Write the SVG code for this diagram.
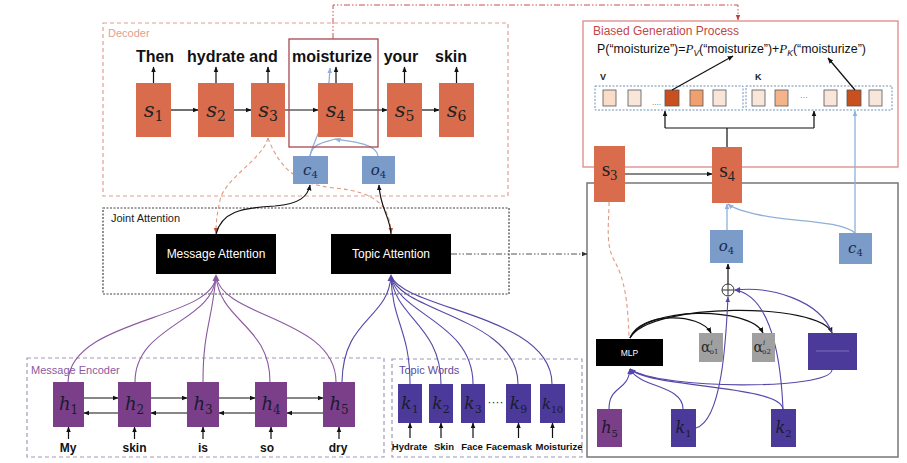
<svg xmlns="http://www.w3.org/2000/svg" width="907" height="463" viewBox="0 0 907 463">
<defs>
<style>
.lbl{font-family:"Liberation Sans",Arial,sans-serif}
.w{font-family:"Liberation Sans",Arial,sans-serif;font-weight:bold;fill:#111;text-anchor:middle}
.m{font-family:"DejaVu Serif","Liberation Serif",serif;font-style:italic;text-anchor:middle}
.al{font-family:"DejaVu Serif","Liberation Serif",serif;fill:#2a2a2a}
.sn{fill:#d86c4c}
.bl{fill:#7b9bc8}
.pu{fill:#7b3f8a}
.in{fill:#4b3a9a}
.ln{fill:none;stroke:#111;stroke-width:1.2}
.lb{fill:none;stroke:#8fb0d8;stroke-width:1.3}
.lp{fill:none;stroke:#8a5aa0;stroke-width:1.1}
.li{fill:none;stroke:#5548a8;stroke-width:1.1}
.ls{fill:none;stroke:#e09a80;stroke-width:1.1;stroke-dasharray:4 3}
.sq{stroke:#555;stroke-width:0.8}
</style>
<marker id="ak" viewBox="0 0 10 10" refX="9" refY="5" markerWidth="6" markerHeight="6" markerUnits="userSpaceOnUse" orient="auto"><path d="M0,1 L10,5 L0,9z" fill="#111"/></marker>
<marker id="ab" viewBox="0 0 10 10" refX="9" refY="5" markerWidth="6" markerHeight="6" markerUnits="userSpaceOnUse" orient="auto"><path d="M0,1 L10,5 L0,9z" fill="#8fb0d8"/></marker>
<marker id="ai" viewBox="0 0 10 10" refX="9" refY="5" markerWidth="6" markerHeight="6" markerUnits="userSpaceOnUse" orient="auto"><path d="M0,1 L10,5 L0,9z" fill="#5548a8"/></marker>
<marker id="as" viewBox="0 0 10 10" refX="9" refY="5" markerWidth="6" markerHeight="6" markerUnits="userSpaceOnUse" orient="auto"><path d="M0,1 L10,5 L0,9z" fill="#c0503a"/></marker>
<marker id="ar" viewBox="0 0 10 10" refX="9" refY="5" markerWidth="6" markerHeight="6" markerUnits="userSpaceOnUse" orient="auto"><path d="M0,1 L10,5 L0,9z" fill="#c04040"/></marker>
<marker id="ag" viewBox="0 0 10 10" refX="9" refY="5" markerWidth="6" markerHeight="6" markerUnits="userSpaceOnUse" orient="auto"><path d="M0,1 L10,5 L0,9z" fill="#333"/></marker>
</defs>
<rect width="907" height="463" fill="#fff"/>

<!-- containers -->
<g id="decoder">
<rect x="103" y="23" width="405" height="173" fill="none" stroke="#e0a090" stroke-width="1.2" stroke-dasharray="4 3"/>
<text x="108" y="37" class="lbl" font-size="11" fill="#e0a090">Decoder</text>
</g>
<g id="joint-attention">
<rect x="103" y="208" width="406" height="86" fill="none" stroke="#444" stroke-width="1.2" stroke-dasharray="2 1.5"/>
<text x="111" y="222" class="lbl" font-size="11" fill="#222">Joint Attention</text>
</g>
<g id="message-encoder">
<rect x="27" y="358" width="357" height="99" fill="none" stroke="#a898b8" stroke-width="1.2" stroke-dasharray="4 3"/>
<text x="31" y="374" class="lbl" font-size="11" fill="#8a5aa0">Message Encoder</text>
</g>
<g id="topic-words">
<rect x="392" y="359" width="190" height="98" fill="none" stroke="#9a98b8" stroke-width="1.2" stroke-dasharray="4 3"/>
<text x="399" y="374" class="lbl" font-size="11" fill="#5a4aa0">Topic Words</text>
</g>
<g id="detail-panel">
<rect x="587" y="183" width="311" height="274" fill="none" stroke="#777" stroke-width="1.5"/>
</g>
<g id="biased-generation">
<rect x="583" y="21" width="315" height="146" fill="#fff" stroke="#e08888" stroke-width="1.3"/>
<text x="593" y="35" class="lbl" font-size="12" fill="#c04848">Biased Generation Process</text>
<text x="597" y="53" class="lbl" font-size="12.4" fill="#111">P(“moisturize”)=<tspan font-family="Liberation Serif,serif" font-style="italic" font-size="13">P</tspan><tspan font-size="8.5" font-style="italic" dy="3">V</tspan><tspan dy="-3">(“moisturize”)+</tspan><tspan font-family="Liberation Serif,serif" font-style="italic" font-size="13">P</tspan><tspan font-size="8.5" font-style="italic" dy="3">K</tspan><tspan dy="-3">(“moisturize”)</tspan></text>
<text x="600" y="80" class="lbl" font-size="9" font-weight="bold" fill="#222">V</text>
<text x="755" y="80" class="lbl" font-size="9" font-weight="bold" fill="#222">K</text>
<rect x="595" y="86" width="148" height="24" fill="none" stroke="#7090b8" stroke-width="1" stroke-dasharray="2 1.5"/>
<rect x="746" y="86" width="146" height="24" fill="none" stroke="#7090b8" stroke-width="1" stroke-dasharray="2 1.5"/>
<rect x="603" y="90" width="13" height="16" fill="#fbdcc8" class="sq"/>
<rect x="628" y="90" width="13" height="16" fill="#f8e6da" class="sq"/>
<text x="652" y="105" class="lbl" font-size="8" fill="#666">....</text>
<rect x="665" y="90" width="14" height="16" fill="#c8501e" class="sq"/>
<rect x="690" y="90" width="13" height="16" fill="#f0a070" class="sq"/>
<rect x="713" y="90" width="13" height="16" fill="#f8e6da" class="sq"/>
<rect x="752" y="90" width="13" height="16" fill="#f8e6da" class="sq"/>
<rect x="775" y="90" width="13" height="16" fill="#f3b48a" class="sq"/>
<text x="800" y="100" class="lbl" font-size="8" fill="#666">···</text>
<rect x="824" y="90" width="13" height="16" fill="#f8e6da" class="sq"/>
<rect x="847" y="90" width="14" height="16" fill="#c8501e" class="sq"/>
<rect x="869" y="90" width="13" height="16" fill="#f8e6da" class="sq"/>
</g>

<!-- connectors -->
<g id="connectors">
<path class="ln" marker-end="url(#ak)" d="M171,110 L198,110"/>
<path class="ln" marker-end="url(#ak)" d="M234,110 L251,110"/>
<path class="ln" marker-end="url(#ak)" d="M285,110 L318,110"/>
<path class="ln" marker-end="url(#ak)" d="M353,110 L387,110"/>
<path class="ln" marker-end="url(#ak)" d="M422,110 L439,110"/>
<path class="ln" marker-end="url(#ak)" d="M153.5,83 L153.5,67"/>
<path class="ln" marker-end="url(#ak)" d="M216,83 L216,67"/>
<path class="ln" marker-end="url(#ak)" d="M268,83 L268,67"/>
<path class="ln" marker-end="url(#ak)" d="M336,83 L336,67"/>
<path class="ln" marker-end="url(#ak)" d="M404.5,83 L404.5,67"/>
<path class="ln" marker-end="url(#ak)" d="M456.5,83 L456.5,67"/>
<path class="lb" marker-end="url(#ab)" d="M310,156 C313,140 327,128 330,68"/>
<path class="lb" d="M310,156 C312,142 328,142 335,139"/>
<path class="lb" marker-end="url(#ab)" d="M378,156 C376,142 345,141 335,139"/>
<path fill="none" stroke="#c85050" stroke-width="1" stroke-dasharray="6 2 1.5 2 1.5 2" marker-end="url(#ar)" d="M333,39 L333,5 L738,5 L738,20"/>
<path class="ls" marker-end="url(#as)" d="M268,138 C262,160 225,178 220,200 C217,214 216,222 216,233"/>
<path class="ls" marker-end="url(#as)" d="M268,138 C280,170 300,185 335,188 C375,192 390,205 391,233"/>
<path class="ln" marker-end="url(#ak)" d="M216,234 C222,212 240,208 275,206 C300,204 308,196 310,185"/>
<path class="ln" marker-end="url(#ak)" d="M391,234 C390,216 380,208 379,185"/>
<path class="lp" d="M216,276 C214,320 70,318 68,382"/>
<path class="lp" d="M216,276 C214,322 135,325 135,382"/>
<path class="lp" d="M216,276 C212,322 203,330 203,382"/>
<path class="lp" d="M216,276 C220,322 270,325 270,382"/>
<path class="lp" d="M216,276 C222,318 336,318 336,382"/>
<polygon points="216,274 212.5,281 219.5,281" fill="#8a5aa0"/>
<path class="li" d="M391,276 C388,320 343,318 342,382"/>
<path class="li" d="M391,276 C392,322 410,330 410,384"/>
<path class="li" d="M391,276 C395,318 441,325 441,384"/>
<path class="li" d="M391,276 C398,315 473,322 473,384"/>
<path class="li" d="M391,276 C400,312 518,318 518,384"/>
<path class="li" d="M391,276 C405,310 552,315 552,384"/>
<polygon points="391,274 387.5,281 394.5,281" fill="#5548a8"/>
<path class="ln" marker-end="url(#ak)" d="M84,398 L118,398"/>
<path class="ln" marker-end="url(#ak)" d="M151,398 L187,398"/>
<path class="ln" marker-end="url(#ak)" d="M219,398 L255,398"/>
<path class="ln" marker-end="url(#ak)" d="M287,398 L323,398"/>
<path class="ln" marker-end="url(#ak)" d="M118,413 L84,413"/>
<path class="ln" marker-end="url(#ak)" d="M187,413 L151,413"/>
<path class="ln" marker-end="url(#ak)" d="M255,413 L219,413"/>
<path class="ln" marker-end="url(#ak)" d="M323,413 L287,413"/>
<path class="ln" marker-end="url(#ak)" d="M68.5,439 L68.5,427"/>
<path class="ln" marker-end="url(#ak)" d="M134.5,439 L134.5,427"/>
<path class="ln" marker-end="url(#ak)" d="M203,439 L203,427"/>
<path class="ln" marker-end="url(#ak)" d="M271,439 L271,427"/>
<path class="ln" marker-end="url(#ak)" d="M339,439 L339,427"/>
<path class="ln" marker-end="url(#ak)" d="M410,438 L410,423"/>
<path class="ln" marker-end="url(#ak)" d="M441,438 L441,423"/>
<path class="ln" marker-end="url(#ak)" d="M473,438 L473,423"/>
<path class="ln" marker-end="url(#ak)" d="M518.5,438 L518.5,423"/>
<path class="ln" marker-end="url(#ak)" d="M552.5,438 L552.5,423"/>
<path fill="none" stroke="#555" stroke-width="1.2" stroke-dasharray="6 2 1.5 2 1.5 2" marker-end="url(#ag)" d="M451,254 L587,254"/>
<path class="ln" marker-end="url(#ak)" d="M672,90 L733,56"/>
<path class="ln" marker-end="url(#ak)" d="M855,90 L828,58"/>
<path class="ln" d="M727,147 L727,128 M665,128 L814,128"/>
<path class="ln" marker-end="url(#ak)" d="M665,128 L665,111"/>
<path class="ln" marker-end="url(#ak)" d="M814,128 L814,111"/>
<path class="lb" marker-end="url(#ab)" d="M855,233 L855,111"/>
<path class="ln" marker-end="url(#ak)" d="M625,174 L712,174"/>
<path class="lb" marker-end="url(#ab)" d="M727,230 L727,204"/>
<path class="lb" marker-end="url(#ab)" d="M855,233 C840,220 790,222 760,215 C745,212 733,208 728,204"/>
<path class="ls" d="M609,202 C609,225 605,245 615,262 C624,278 628,300 629,338"/>
<path class="ln" marker-end="url(#ak)" d="M728,284 L728,264"/>
<path class="ln" marker-end="url(#ak)" d="M630,338 C640,312 700,312 711,333"/>
<path class="ln" marker-end="url(#ak)" d="M630,338 C645,306 750,306 763,333"/>
<path class="ln" marker-end="url(#ak)" d="M630,338 C650,302 820,302 832,333"/>
<path class="li" marker-end="url(#ai)" d="M609,409 C609,385 628,392 630,369"/>
<path class="li" marker-end="url(#ai)" d="M683,409 C683,385 640,388 630,369"/>
<path class="li" marker-end="url(#ai)" d="M783,409 C780,385 650,388 630,369"/>
<path class="li" marker-end="url(#ai)" d="M832,370 C830,390 660,390 630,369"/>
<path class="li" marker-end="url(#ai)" d="M696,428 C722,420 726,340 728,297"/>
<path class="li" marker-end="url(#ai)" d="M783,409 C780,340 765,295 735,290"/>
<path class="li" marker-end="url(#ai)" d="M832,333 C820,300 770,286 735,290"/>
</g>

<!-- decoder nodes -->
<g id="s1"><rect x="136" y="83" width="35" height="54" class="sn"/><text x="153.5" y="117" class="m" font-size="21" fill="#222">s<tspan font-size="14" font-style="normal" dy="4">1</tspan></text></g>
<g id="s2"><rect x="198" y="83" width="36" height="54" class="sn"/><text x="216" y="117" class="m" font-size="21" fill="#222">s<tspan font-size="14" font-style="normal" dy="4">2</tspan></text></g>
<g id="s3"><rect x="251" y="83" width="34" height="54" class="sn"/><text x="268" y="117" class="m" font-size="21" fill="#222">s<tspan font-size="14" font-style="normal" dy="4">3</tspan></text></g>
<g id="s4"><rect x="318" y="83" width="35" height="54" class="sn"/><text x="335.5" y="117" class="m" font-size="21" fill="#222">s<tspan font-size="14" font-style="normal" dy="4">4</tspan></text></g>
<g id="s5"><rect x="387" y="83" width="35" height="54" class="sn"/><text x="404.5" y="117" class="m" font-size="21" fill="#222">s<tspan font-size="14" font-style="normal" dy="4">5</tspan></text></g>
<g id="s6"><rect x="439" y="83" width="35" height="54" class="sn"/><text x="456.5" y="117" class="m" font-size="21" fill="#222">s<tspan font-size="14" font-style="normal" dy="4">6</tspan></text></g>
<g id="focus-box"><rect x="289" y="39" width="89" height="108" fill="none" stroke="#a84850" stroke-width="1.3"/></g>
<g id="words">
<text x="155" y="62" class="w" font-size="16">Then</text>
<text x="187" y="62" class="w" font-size="16" style="text-anchor:start">hydrate and</text>
<text x="332" y="62" class="w" font-size="16">moisturize</text>
<text x="401" y="62" class="w" font-size="16">your</text>
<text x="451" y="62" class="w" font-size="16">skin</text>
</g>
<g id="c4"><rect x="293" y="156" width="35" height="28" class="bl"/><text x="310.5" y="175" class="m" font-size="15" fill="#1a2a50">c<tspan font-size="10" font-style="normal" dy="3">4</tspan></text></g>
<g id="o4"><rect x="362" y="156" width="33" height="28" class="bl"/><text x="378.5" y="175" class="m" font-size="15" fill="#1a2a50">o<tspan font-size="10" font-style="normal" dy="3">4</tspan></text></g>

<g id="message-attention"><rect x="156" y="234" width="120" height="40" fill="#000"/><text x="216" y="258" class="lbl" font-size="12" fill="#fff" text-anchor="middle">Message Attention</text></g>
<g id="topic-attention"><rect x="331" y="234" width="120" height="40" fill="#000"/><text x="391" y="258" class="lbl" font-size="12" fill="#fff" text-anchor="middle">Topic Attention</text></g>

<!-- encoder nodes -->
<g id="h1"><rect x="53" y="382" width="31" height="45" class="pu"/><text x="68.5" y="410" class="m" font-size="18" fill="#1a1a2e">h<tspan font-size="12" font-style="normal" dy="4">1</tspan></text></g>
<g id="h2"><rect x="118" y="382" width="33" height="45" class="pu"/><text x="134.5" y="410" class="m" font-size="18" fill="#1a1a2e">h<tspan font-size="12" font-style="normal" dy="4">2</tspan></text></g>
<g id="h3"><rect x="187" y="382" width="32" height="45" class="pu"/><text x="203" y="410" class="m" font-size="18" fill="#1a1a2e">h<tspan font-size="12" font-style="normal" dy="4">3</tspan></text></g>
<g id="h4"><rect x="255" y="382" width="32" height="45" class="pu"/><text x="271" y="410" class="m" font-size="18" fill="#1a1a2e">h<tspan font-size="12" font-style="normal" dy="4">4</tspan></text></g>
<g id="h5"><rect x="323" y="382" width="32" height="45" class="pu"/><text x="339" y="410" class="m" font-size="18" fill="#1a1a2e">h<tspan font-size="12" font-style="normal" dy="4">5</tspan></text></g>
<g id="enc-words">
<text x="68" y="452" class="w" font-size="12">My</text>
<text x="134.5" y="452" class="w" font-size="12">skin</text>
<text x="203" y="452" class="w" font-size="12">is</text>
<text x="267" y="452" class="w" font-size="12">so</text>
<text x="338" y="452" class="w" font-size="12">dry</text>
</g>

<!-- topic word nodes -->
<g id="k1"><rect x="398" y="384" width="24" height="39" class="in"/><text x="410" y="409" class="m" font-size="17" fill="#1a1a2e">k<tspan font-size="11" font-style="normal" dy="4">1</tspan></text></g>
<g id="k2"><rect x="429" y="384" width="24" height="39" class="in"/><text x="441" y="409" class="m" font-size="17" fill="#1a1a2e">k<tspan font-size="11" font-style="normal" dy="4">2</tspan></text></g>
<g id="k3"><rect x="461" y="384" width="24" height="39" class="in"/><text x="473" y="409" class="m" font-size="17" fill="#1a1a2e">k<tspan font-size="11" font-style="normal" dy="4">3</tspan></text></g>
<text x="495.5" y="406" class="lbl" font-size="12" fill="#333" text-anchor="middle">····</text>
<g id="k9"><rect x="506" y="384" width="25" height="39" class="in"/><text x="518.5" y="409" class="m" font-size="17" fill="#1a1a2e">k<tspan font-size="11" font-style="normal" dy="4">9</tspan></text></g>
<g id="k10"><rect x="540" y="384" width="25" height="39" class="in"/><text x="552.5" y="409" class="m" font-size="15" fill="#1a1a2e">k<tspan font-size="9.5" font-style="normal" dy="4">10</tspan></text></g>
<g id="topic-list">
<text x="409.5" y="450" class="w" font-size="9.5">Hydrate</text>
<text x="444" y="450" class="w" font-size="9.5">Skin</text>
<text x="472" y="450" class="w" font-size="9.5">Face</text>
<text x="509" y="450" class="w" font-size="9.5">Facemask</text>
<text x="559" y="450" class="w" font-size="9.5">Moisturize</text>
</g>

<!-- right panel nodes -->
<g id="rs3"><rect x="594" y="146" width="31" height="56" class="sn"/><text x="609.5" y="176" font-family="Liberation Serif,serif" font-size="22" fill="#222" text-anchor="middle">s<tspan font-size="14" dy="4">3</tspan></text></g>
<g id="rs4"><rect x="712" y="147" width="30" height="56" class="sn"/><text x="727" y="177" font-family="Liberation Serif,serif" font-size="22" fill="#222" text-anchor="middle">s<tspan font-size="14" dy="4">4</tspan></text></g>
<g id="ro4"><rect x="710" y="230" width="33" height="33" class="bl"/><text x="726.5" y="251" class="m" font-size="15" fill="#1a2a50">o<tspan font-size="10" font-style="normal" dy="3">4</tspan></text></g>
<g id="rc4"><rect x="839" y="233" width="33" height="31" class="bl"/><text x="855.5" y="253" class="m" font-size="15" fill="#1a2a50">c<tspan font-size="10" font-style="normal" dy="3">4</tspan></text></g>
<g id="oplus"><circle cx="728" cy="290" r="6" fill="#fff" stroke="#333" stroke-width="1"/><path d="M722,290 L734,290 M728,284 L728,296" stroke="#333" stroke-width="1"/></g>
<g id="mlp"><rect x="596" y="339" width="67" height="27" fill="#000"/><text x="629.5" y="356" class="lbl" font-size="8.5" fill="#fff" text-anchor="middle">MLP</text></g>
<g id="alpha1"><rect x="699" y="333" width="24" height="29" fill="#a0a0a0"/><text x="701" y="352" class="al" font-size="14">α<tspan font-size="7" font-style="italic" dy="-7">i</tspan><tspan font-size="7" dx="-3" dy="9">o1</tspan></text></g>
<g id="alpha2"><rect x="752" y="333" width="23" height="29" fill="#a0a0a0"/><text x="753.5" y="352" class="al" font-size="14">α<tspan font-size="7" font-style="italic" dy="-7">i</tspan><tspan font-size="7" dx="-3" dy="9">o2</tspan></text></g>
<g id="alpha-more"><rect x="808" y="333" width="49" height="37" class="in"/><line x1="816" y1="351" x2="849" y2="351" stroke="#8a80c8" stroke-width="0.8"/></g>
<g id="rh5"><rect x="597" y="409" width="25" height="38" class="pu"/><text x="609.5" y="433" class="m" font-size="16" fill="#1a1a2e">h<tspan font-size="10" font-style="normal" dy="4">5</tspan></text></g>
<g id="rk1"><rect x="671" y="409" width="25" height="38" class="in"/><text x="683.5" y="433" class="m" font-size="16" fill="#1a1a2e">k<tspan font-size="10" font-style="normal" dy="4">1</tspan></text></g>
<g id="rk2"><rect x="771" y="409" width="25" height="38" class="in"/><text x="783.5" y="433" class="m" font-size="16" fill="#1a1a2e">k<tspan font-size="10" font-style="normal" dy="4">2</tspan></text></g>
</svg>
